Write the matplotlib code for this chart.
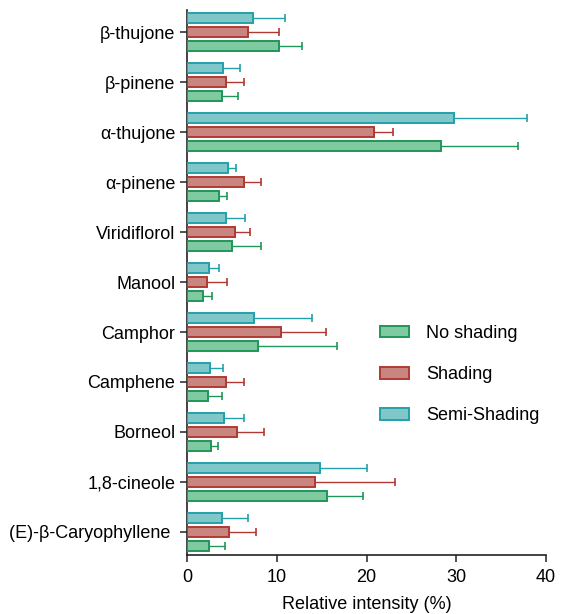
import matplotlib

matplotlib.use("Agg")
import matplotlib.pyplot as plt
import numpy as np

plt.rcParams.update({
    "font.family": ["Liberation Sans", "DejaVu Sans"],
    "font.size": 13,
})

compounds = [
    "β-thujone", "β-pinene", "α-thujone", "α-pinene", "Viridiflorol", "Manool",
    "Camphor", "Camphene", "Borneol", "1,8-cineole", "(E)-β-Caryophyllene ",
]

# mean relative intensity (%) and standard deviation per treatment
semi_mean = [7.3, 4.0, 29.8, 4.6, 4.4, 2.5, 7.45, 2.6, 4.1, 14.8, 3.95]
semi_sd = [3.6, 1.9, 8.1, 0.9, 2.05, 1.1, 6.45, 1.4, 2.3, 5.2, 2.8]
shad_mean = [6.8, 4.35, 20.8, 6.3, 5.3, 2.25, 10.5, 4.3, 5.6, 14.25, 4.7]
shad_sd = [3.5, 1.95, 2.2, 2.0, 1.7, 2.25, 5.0, 2.0, 2.95, 8.95, 2.95]
none_mean = [10.2, 3.9, 28.3, 3.6, 5.0, 1.75, 7.9, 2.35, 2.7, 15.6, 2.4]
none_sd = [2.6, 1.8, 8.6, 0.9, 3.3, 1.05, 8.8, 1.55, 0.8, 4.0, 1.8]

series = [
    ("No shading", none_mean, none_sd, "#7fcaa0", "#21965a", 0.28),
    ("Shading", shad_mean, shad_sd, "#c98580", "#b03a33", 0.0),
    ("Semi-Shading", semi_mean, semi_sd, "#80c7c9", "#23a1aa", -0.28),
]

fig = plt.figure(figsize=(5.61, 6.14), dpi=100)
ax = fig.add_axes([0.3333, 0.0961, 0.64, 0.8876])

y = np.arange(len(compounds))
for label, mean, sd, fc, ec, off in series:
    ax.barh(y + off, mean, height=0.19, color=fc, edgecolor=ec, linewidth=1.4,
            label=label, zorder=3)
    ax.errorbar(mean, y + off, xerr=[np.zeros(len(mean)), sd], fmt="none",
                ecolor=ec, elinewidth=1.0, capsize=3, capthick=1.2, zorder=2)

ax.set_yticks(y)
ax.set_yticklabels(compounds)
ax.set_ylim(10.46, -0.44)
ax.set_xlim(0, 40)
ax.set_xticks([0, 10, 20, 30, 40])
ax.set_xlabel("Relative intensity (%)", labelpad=7)

for side in ("top", "right"):
    ax.spines[side].set_visible(False)
for side in ("left", "bottom"):
    ax.spines[side].set_linewidth(1.2)
    ax.spines[side].set_color("#222222")
ax.tick_params(axis="both", length=5, width=1.1, color="#222222")
ax.tick_params(axis="x", pad=5)

ax.legend(loc="center left", bbox_to_anchor=(0.517, 0.331), frameon=False,
          borderaxespad=0, handlelength=1.6, handleheight=0.62,
          labelspacing=1.35, handletextpad=0.95)

fig.savefig("out.png", dpi=100, facecolor="white")
